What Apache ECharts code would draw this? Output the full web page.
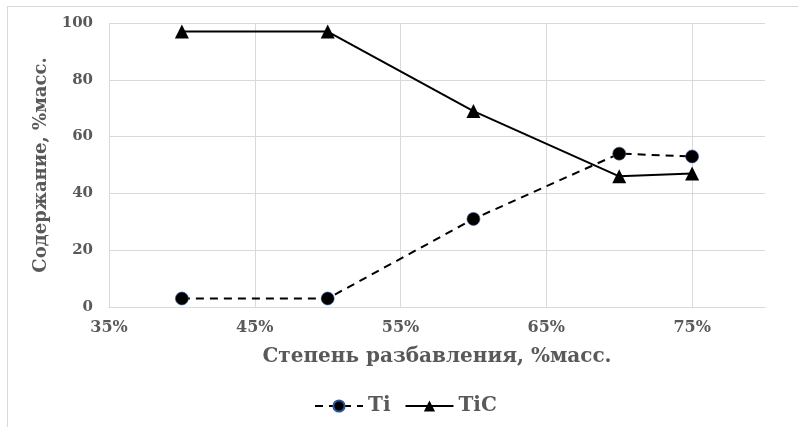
<!DOCTYPE html>
<html>
<head>
<meta charset="utf-8">
<script src="https://cdn.jsdelivr.net/npm/echarts@6/dist/echarts.min.js"></script>
<style>
  html, body { margin: 0; padding: 0; background: #fff; }
  #frame { position: absolute; left: 7px; top: 6px; width: 800px; height: 430px; border: 1px solid #d9d9d9; box-sizing: border-box; }
  #chart { position: absolute; left: 0; top: 0; width: 798px; height: 427px; }
</style>
</head>
<body>
<div id="frame"></div>
<div id="chart"></div>
<script>
// dilution degree, fraction by mass
var dilution = [0.40, 0.50, 0.60, 0.70, 0.75];
var tiValues = [3, 3, 31, 54, 53];
var ticValues = [97, 97, 69, 46, 47];

var textColor = '#595959';
var gridColor = '#d9d9d9';
var fontFamily = '"DejaVu Serif", "Liberation Serif", serif';

function pairs(xs, ys) {
    var out = [];
    for (var i = 0; i < xs.length; i++) out.push([xs[i], ys[i]]);
    return out;
}

var chart = echarts.init(document.getElementById('chart'));
chart.setOption({
    animation: false,
    grid: { left: 109, right: 33, top: 23, bottom: 120 },
    xAxis: {
        type: 'value',
        min: 0.35,
        max: 0.80,
        interval: 0.1,
        name: 'Степень разбавления, %масс.',
        nameLocation: 'middle',
        nameGap: 40,
        nameTextStyle: { color: textColor, fontFamily: fontFamily, fontWeight: 'bold', fontSize: 20 },
        axisLine: { show: true, lineStyle: { color: gridColor, width: 1 } },
        axisTick: { show: false },
        axisLabel: {
            color: textColor, fontFamily: fontFamily, fontWeight: 'bold', fontSize: 16, margin: 13,
            showMaxLabel: false,
            formatter: function (v) { return Math.round(v * 100) + '%'; }
        },
        splitLine: { show: true, showMaxLine: false, lineStyle: { color: gridColor, width: 1 } }
    },
    yAxis: {
        type: 'value',
        min: 0,
        max: 100,
        interval: 20,
        name: 'Содержание, %масс.',
        nameLocation: 'middle',
        nameGap: 55,
        nameTextStyle: { color: textColor, fontFamily: fontFamily, fontWeight: 'bold', fontSize: 18 },
        axisLine: { show: false },
        axisTick: { show: false },
        axisLabel: { color: textColor, fontFamily: fontFamily, fontWeight: 'bold', fontSize: 15, margin: 16 },
        splitLine: { lineStyle: { color: gridColor, width: 1 } }
    },
    legend: {
        bottom: 6,
        left: 309,
        itemWidth: 48,
        itemHeight: 14,
        itemGap: 14,
        textStyle: { color: textColor, fontFamily: fontFamily, fontWeight: 'bold', fontSize: 20 },
        data: ['Ti', 'TiC']
    },
    series: [
        {
            name: 'Ti',
            type: 'line',
            data: pairs(dilution, tiValues),
            symbol: 'circle',
            symbolSize: 13,
            itemStyle: { color: '#000', borderColor: '#2f5597', borderWidth: 0.6 },
            lineStyle: { color: '#000', width: 2, type: [8, 6] }
        },
        {
            name: 'TiC',
            type: 'line',
            data: pairs(dilution, ticValues),
            symbol: 'triangle',
            symbolSize: 14,
            itemStyle: { color: '#000' },
            lineStyle: { color: '#000', width: 2 }
        }
    ]
});
</script>
</body>
</html>
